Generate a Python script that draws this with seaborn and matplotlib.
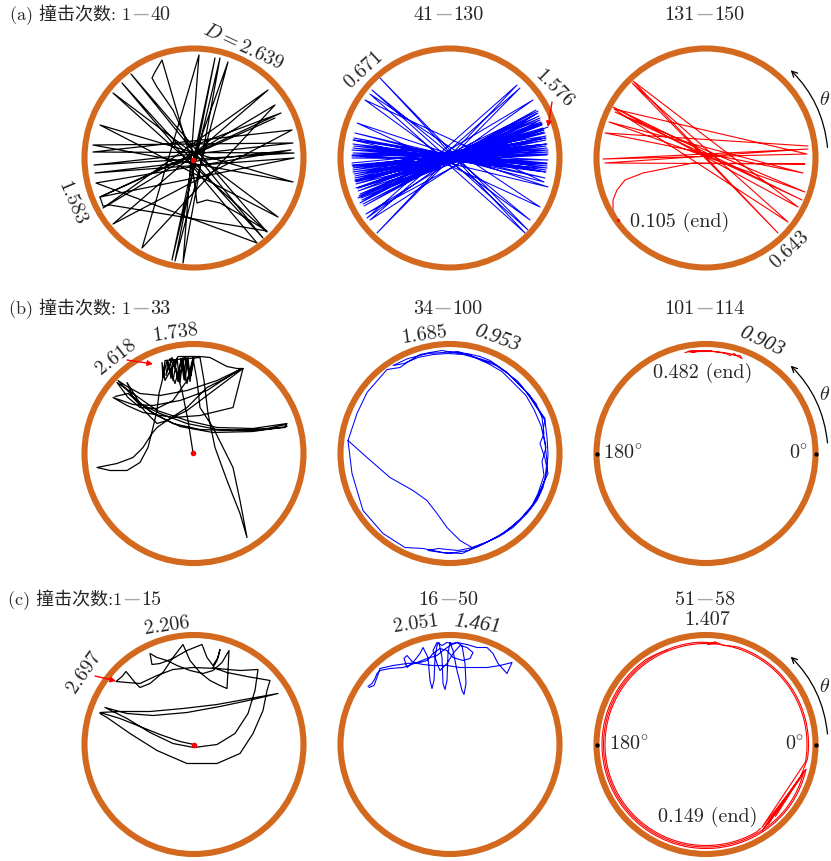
import numpy as np
import matplotlib
matplotlib.use("Agg")
import matplotlib.pyplot as plt
import seaborn as sns
from matplotlib.patches import Circle

# ---------------------------------------------------------------- data
# trajectory points, in px-like units relative to the container centre
# (container wall at radius ~109.5)
a1_xy = [(-1, -2), (34, 96), (-19, -103), (21, 100), (-22, -102), (26, 100), (-11, -105), (5, 103),
         (-52, -90), (81, 53), (-91, -50), (74, 68), (-81, -66), (98, 28), (-101, 6), (100, 5),
         (-100, -7), (99, 15), (-101, 13), (99, -24), (-94, 33), (84, -59), (-81, 65), (73, -74),
         (-63, 84), (69, -80), (-72, 75), (63, -85), (-98, -25), (97, 8), (-99, -15), (100, 0),
         (-94, -39), (87, 45), (-4, 11), (-21, 48), (-37, 71), (-42, 80), (-39, 86), (-32, 98),
         (-2, -5), (3, -45), (13, -42), (26, -45), (47, -57), (73, -73), (-84, -47), (-91, -48),
         (-94, -39), (81, 40)]

a2_xy = [(-98, -5), (97, 14), (-97, -12), (96, 20), (-95, -18), (95, 25), (-94, -24), (93, 30),
         (-92, -30), (92, 35), (-90, -36), (90, 40), (-88, -42), (88, 45), (-86, -48), (86, 48),
         (-84, -56), (90, 38), (-92, -33), (94, 28), (-95, -22), (96, 18), (-97, -14), (97, 10),
         (-98, -7), (98, 4), (-98, 0), (98, -2), (-98, 8), (97, -8), (-97, 14), (96, -14),
         (-96, 20), (95, -20), (-95, 25), (94, -24), (-85, 58), (80, -62), (-78, 68), (78, -72),
         (-70, 80), (75, -75), (-80, 64), (90, -49), (-93, 35), (98, -29), (-97, 18), (97, -10),
         (-98, 3), (98, 8), (-97, -10), (96, 22), (-94, -26), (92, 33), (-91, -38), (89, 42),
         (-87, -46), (86, 44), (-80, -62), (70, 70), (-73, -75), (67, 73), (-83, -60), (83, 58),
         (-90, -45), (88, 47), (-92, -40), (91, 36), (-94, -30), (93, 28), (-95, -23), (95, 20),
         (-96, -16), (96, 12), (-97, -8), (97, 3), (-97, 5), (97, -5), (-96, 12), (96, -12),
         (-96, 18), (95, -14), (-97, 10), (97, -6), (-98, 2), (98, 6), (-97, -8), (96, 14),
         (-95, -20), (94, 26), (-92, -30), (92, 34), (-89, -40), (98, 31)]

a3_xy = [(102, 12), (-101, 25), (97, -15), (-97, 36), (99, -34), (-91, 46), (96, -42), (-93, 51),
         (92, -49), (-73, 77), (72, -75), (-74, 75), (82, -64), (-92, 49), (101, 4), (-103, -1),
         (102, 9), (-101, -5), (99, -6), (-13, -5), (-63, -15), (-81, -22), (-89, -32), (-93, -42),
         (-93, -52), (-88, -62)]

b1_xy = [(-1, 1), (-6, 33), (-12, 63), (-19, 86), (-24, 95),
         (-21, 73), (-17, 95), (-14, 71), (-11, 96), (-9, 73), (-6, 96), (-4, 76), (-1, 96), (-7, 70),
         (-12, 95), (-19, 70), (-27, 93), (-31, 76), (-32, 91), (-29, 73), (-16, 97), (-2, 97),
         (6, 97), (16, 96), (33, 87), (43, 85), (49, 85),
         (33, 73), (13, 58), (-7, 43), (-27, 33), (-37, 26), (-42, 20), (-51, 6), (-61, -4), (-77, -10), (-97, -14),
         (-84, -17), (-67, -17), (-54, -9), (-46, 6), (-41, 26), (-37, 43), (-35, 60), (-31, 76), (-29, 93),
         (6, 96), (10, 73), (14, 40), (21, 6), (33, -27), (46, -60), (53, -84),
         (46, -47), (39, -14), (29, 6), (19, 26), (6, 46), (3, 73), (-1, 95),
         (-4, 72), (-8, 96), (-10, 74), (-13, 95), (-16, 72), (-20, 94), (-23, 75), (-26, 92),
         (-28, 78), (-22, 96), (-15, 76), (-9, 97), (-3, 78), (0, 95),
         (-7, 73), (-21, 53), (-37, 45), (-54, 46), (-66, 56), (-77, 71),
         (-61, 60), (-37, 43), (-7, 33), (23, 26), (59, 25), (93, 30),
         (91, 26), (59, 23), (23, 24), (-7, 30), (-34, 40), (-54, 50), (-67, 71),
         (-61, 56), (-47, 40), (-37, 30), (-27, 33), (-7, 46), (13, 66), (33, 76), (46, 84),
         (39, 80), (13, 63), (-14, 53), (-41, 48), (-61, 49), (-81, 56),
         (-67, 48), (-51, 41), (-21, 36), (6, 38), (39, 46),
         (49, 85), (46, 84), (23, 73), (-7, 63), (-34, 58), (-54, 60), (-67, 67), (-76, 73),
         (-61, 57), (-44, 42), (-21, 30), (6, 24), (39, 23), (73, 25), (92, 29),
         (93, 27), (59, 22), (19, 21), (-14, 27), (-37, 38), (-54, 50), (-66, 60), (-79, 57)]

b2_xy = [(-102, 13), (-93, 40), (-83, 61), (-63, 84),
         (-50, 86), (-40, 93), (-30, 99), (-20, 101), (-8, 103), (3, 101), (17, 100), (30, 97), (40, 93),
         (50, 86), (60, 78), (67, 73), (73, 66), (82, 53), (90, 41), (95, 33), (97, 16), (98, 0),
         (97, -17), (93, -34), (87, -47), (77, -60), (63, -74), (47, -84), (30, -92), (12, -100),
         (-7, -99), (-27, -95), (-45, -94), (-67, -80), (-87, -57), (-98, -20), (-102, 13),
         (-83, -4), (-60, -24), (-37, -37), (-23, -47), (-13, -60), (-3, -74), (10, -87), (22, -94),
         (38, -88), (54, -80), (70, -66), (82, -52), (88, -40), (94, -22), (92, -8), (96, 6), (93, 22),
         (95, 35), (86, 48), (80, 58), (70, 68), (58, 80), (46, 88), (28, 95), (13, 99), (-2, 100),
         (-17, 99), (-32, 96), (-46, 90), (-57, 88),
         (-42, 95), (-22, 100), (-7, 101), (8, 102), (26, 96), (42, 91), (56, 82), (66, 72), (76, 62),
         (86, 50), (92, 36), (94, 20), (90, 10), (95, -5), (98, -20), (91, -35), (84, -50), (72, -64),
         (56, -78), (38, -88), (18, -97), (-2, -100), (-22, -97), (-12, -95), (8, -97), (28, -93),
         (48, -83), (66, -70), (80, -56), (90, -40), (95, -25), (97, -8), (95, 10), (91, 28), (84, 44),
         (76, 58), (64, 70), (52, 82), (38, 90), (20, 98), (6, 101)]

b3_xy = [(-21, 101), (-10, 103), (-18, 102), (-5, 103), (-15, 101), (0, 103), (-12, 102), (5, 103),
         (-8, 102), (7, 102), (14, 101), (20, 100), (24, 98), (28, 100), (32, 97), (36, 95), (34, 98),
         (29, 98), (23, 100), (17, 101), (9, 102), (-1, 103), (-11, 102), (-17, 102)]

c1_xy = [(0, 0), (-14, 3), (-34, 10), (-54, 18), (-74, 26), (-94, 32),
         (-74, 33), (-44, 33), (-11, 36), (23, 40), (56, 46), (84, 51),
         (59, 45), (26, 38), (-7, 32), (-41, 29), (-67, 31), (-89, 37),
         (-67, 26), (-44, 12), (-21, 1), (0, -3), (23, 0), (41, 11), (54, 31), (61, 54), (64, 75),
         (46, 74), (23, 76), (-1, 77), (-21, 75), (-37, 69), (-54, 61), (-67, 62), (-78, 63),
         (-72, 68), (-68, 73), (-59, 62), (-54, 57), (-44, 61), (-31, 72), (-21, 87), (-11, 100),
         (-4, 84), (6, 72), (16, 64), (26, 59), (33, 56),
         (34, 74), (35, 94),
         (28, 82), (19, 74), (9, 71), (-4, 74), (-17, 79), (-27, 84), (-37, 87), (-44, 91),
         (-42, 80), (-34, 81), (-21, 86), (-7, 94), (8, 100),
         (13, 87), (19, 79), (24, 87), (26, 95),
         (23, 84), (19, 77), (33, 72), (53, 68), (76, 64),
         (73, 54), (69, 34), (59, 11), (46, -9), (23, -19), (-7, -19), (-37, -6), (-64, 11),
         (-87, 27), (-94, 31)]

c2_xy = [(-82, 58), (-78, 61), (-75, 66), (-73, 71), (-70, 74), (-60, 76), (-47, 77), (-33, 82),
         (-23, 86), (-13, 89), (-7, 94), (0, 99), (7, 102), (17, 100), (27, 97), (37, 97), (43, 91),
         (48, 81), (57, 71), (62, 82), (50, 79), (37, 77), (27, 77), (10, 77), (-3, 79), (-17, 79),
         (-27, 80), (-37, 82), (-43, 89), (-46, 86), (-43, 77), (-37, 82), (-30, 91), (-27, 97),
         (-22, 87), (-20, 64), (-18, 56), (-16, 64), (-15, 87), (-13, 99), (-11, 102), (-8, 87),
         (-7, 61), (-5, 55), (-3, 64), (-2, 91), (0, 102), (3, 94), (7, 74), (12, 54), (14, 50),
         (16, 61), (15, 81), (12, 99), (7, 102), (2, 101), (-3, 102), (-8, 99), (-13, 102),
         (-17, 94), (-13, 81), (-10, 74), (-3, 81), (3, 91), (10, 99), (17, 97), (23, 92), (20, 86),
         (13, 84), (3, 87), (-3, 94), (-10, 96), (-17, 91), (-23, 84), (-30, 82), (-43, 81),
         (-57, 79), (-70, 76), (-73, 67), (-76, 59), (-81, 57)]

# panel c3: wall-hugging laps as (polar angle in deg, radius), and the
# straight corner flights between them
c3_lap1 = [(112, 102), (125, 104), (140, 104), (155, 104), (170, 104), (185, 104), (200, 104),
           (215, 104), (230, 104), (245, 104), (260, 104), (275, 104), (290, 104), (305, 104),
           (320, 104), (335, 103.5), (346, 103)]
c3_corner1 = [(346, 103), (303, 103), (345, 102), (308, 101), (343, 101), (314, 100), (326, 96),
              (318, 97), (341, 100), (352, 102.5)]
c3_lap2 = [(-8, 102.5), (2, 102.5), (15, 102.5), (30, 102.5), (45, 102.5), (60, 102.5),
           (72, 102.5), (80, 100.5), (85, 103), (89, 100), (84, 101.5), (95, 102.5), (110, 102.5),
           (125, 102.5), (140, 102.5), (155, 102.5), (170, 102.5), (185, 102.5), (200, 102.5),
           (215, 102.5), (230, 102.5), (245, 102.5), (260, 102.5), (275, 102.5), (290, 102.5),
           (305, 102.5), (320, 102.5), (333, 102), (344, 101.5)]
c3_corner2 = [(344, 101.5), (306, 101), (340, 100), (304, 100), (350, 101)]
c3_lap3 = [(-10, 101), (5, 101), (20, 101), (35, 101), (50, 101), (65, 101), (80, 101), (95, 101),
           (110, 101), (125, 101), (140, 101), (155, 101), (170, 101), (185, 101), (200, 101),
           (215, 101), (230, 101), (245, 101), (260, 101), (275, 101), (290, 101), (300, 101),
           (303, 100)]

start_dots = {"a1": (-1, -2), "b1": (-1, 1), "c1": (0, 0)}
end_dot_a3 = (-88, -62)

# ---------------------------------------------------------------- style
sns.set_style("white")
plt.rcParams["font.family"] = ["cmr10", "Noto Sans CJK SC"]
plt.rcParams["mathtext.fontset"] = "cm"
plt.rcParams["axes.formatter.use_mathtext"] = True

W, H = 831, 861
FS = 14.5
RING_R = 109.5
RING_C = "#D2691E"
COLS = [194, 450, 706]
ROWS = [158, 453.5, 744.5]
L = 128

fig = plt.figure(figsize=(W / 100, H / 100), dpi=100)


def rect(col, row):
    cx, cy = COLS[col], ROWS[row]
    return [(cx - L) / W, (H - cy - L) / H, 2 * L / W, 2 * L / H]


def make_ax(col, row):
    ax = fig.add_axes(rect(col, row))
    ax.set_xlim(-L, L)
    ax.set_ylim(-L, L)
    ax.axis("off")
    ax.add_patch(Circle((0, 0), RING_R, fill=False, ec=RING_C, lw=4.4, zorder=3))
    return ax


def fix(ax):
    ax.set_xlim(-L, L)
    ax.set_ylim(-L, L)
    ax.set_xlabel("")
    ax.set_ylabel("")


def traj(ax, xy, color, lw):
    x = [p[0] for p in xy]
    y = [p[1] for p in xy]
    sns.lineplot(x=x, y=y, sort=False, estimator=None, color=color, lw=lw, ax=ax, zorder=2,
                 legend=False)
    fix(ax)


def polar_to_xy(pts):
    t = np.deg2rad([p[0] for p in pts])
    r = np.array([p[1] for p in pts])
    return list(zip(r * np.cos(t), r * np.sin(t)))


def txt(ax, x, y, s, rot=0, ha="center", size=FS, **kw):
    ax.text(x, y, s, rotation=rot, ha=ha, va="center", rotation_mode="anchor", fontsize=size, **kw)


def title(ax, y, left, right, dash_x, left_size=FS):
    ax.text(dash_x - 9.5, y, left, ha="right", va="baseline", fontsize=left_size)
    ax.text(dash_x, y + 1.5, "\u2014", ha="center", va="baseline", fontsize=12,
            color="#a8a8a8", family="DejaVu Sans")
    ax.text(dash_x + 9.5, y, right, ha="left", va="baseline", fontsize=FS)


def red_arrow(ax, start, end):
    ax.annotate("", xy=end, xytext=start,
                arrowprops=dict(arrowstyle="-|>", color="red", lw=1.0, mutation_scale=8,
                                shrinkA=0, shrinkB=0), zorder=5)


def theta_arrow(ax):
    ax.annotate("", xy=(84.7, 87.8), xytext=(121.5, 10.6),
                arrowprops=dict(arrowstyle="->", color="black", lw=0.9, mutation_scale=10,
                                connectionstyle="arc3,rad=0.18", shrinkA=0, shrinkB=0))
    txt(ax, 119, 58, r"$\theta$")


def angle_marks(ax, x180, x0):
    sns.scatterplot(x=[-RING_R, RING_R], y=[0, 0], color="black", s=10, linewidth=0, ax=ax,
                    zorder=5, legend=False)
    ax.text(x180, 0, r"$180^{\circ}$", ha="left", va="center", fontsize=FS)
    ax.text(x0, 0, r"$0^{\circ}$", ha="right", va="center", fontsize=FS)
    fix(ax)


def dot(ax, p, s=16):
    sns.scatterplot(x=[p[0]], y=[p[1]], color="red", s=s, linewidth=0, ax=ax, zorder=6,
                    legend=False)
    fix(ax)


# ---------------------------------------------------------------- row (a)
ax = make_ax(0, 0)
traj(ax, a1_xy, "black", 0.9)
dot(ax, start_dots["a1"])
title(ax, 137.5, "(a) 撞击次数: 1", "40", -53.5, left_size=13)
txt(ax, 49, 111, r"$D=2.639$", rot=-25)
txt(ax, -122, -45, "1.583", rot=-67)

ax = make_ax(1, 0)
traj(ax, a2_xy, "blue", 0.75)
title(ax, 137.5, "41", "130", -6.5)
txt(ax, -86, 88, "0.671", rot=43)
txt(ax, 104, 69, "1.576", rot=-45)
red_arrow(ax, (102, 56), (98, 31))

ax = make_ax(2, 0)
traj(ax, a3_xy, "red", 0.8)
dot(ax, end_dot_a3, s=6)
title(ax, 137.5, "131", "150", -1.5)
txt(ax, -26, -64, "0.105 (end)")
txt(ax, 84, -92, "0.643", rot=43)
theta_arrow(ax)

# ---------------------------------------------------------------- row (b)
ax = make_ax(0, 1)
traj(ax, b1_xy, "black", 0.9)
dot(ax, start_dots["b1"])
title(ax, 139.3, "(b) 撞击次数: 1", "33", -53.5, left_size=13)
txt(ax, -78, 96.5, "2.618", rot=38)
txt(ax, -19, 120.5, "1.738", rot=8)
red_arrow(ax, (-67, 93.5), (-41, 89.5))

ax = make_ax(1, 1)
traj(ax, b2_xy, "blue", 0.75)
title(ax, 139.3, "34", "100", -7.5)
txt(ax, -26, 118.5, "1.685", rot=8)
txt(ax, 47, 114.5, "0.953", rot=-20, family="Liberation Serif", style="italic", size=15)

ax = make_ax(2, 1)
traj(ax, b3_xy, "red", 0.8)
title(ax, 139.3, "101", "114", -1.5)
txt(ax, 56, 111.5, "0.903", rot=-25, family="Liberation Serif", style="italic", size=15)
txt(ax, -3, 80.5, "0.482 (end)")
angle_marks(ax, -103, 102)
theta_arrow(ax)

# ---------------------------------------------------------------- row (c)
ax = make_ax(0, 2)
traj(ax, c1_xy, "black", 0.9)
dot(ax, start_dots["c1"])
title(ax, 139.3, "(c) 撞击次数:1", "15", -62, left_size=13)
txt(ax, -110, 72.5, "2.697", rot=55)
txt(ax, -27, 118.5, "2.206", rot=8)
red_arrow(ax, (-99, 68.5), (-78, 63.5))

ax = make_ax(1, 2)
traj(ax, c2_xy, "blue", 0.8)
title(ax, 139.3, "16", "50", -1.5)
txt(ax, -34, 120.5, "2.051", rot=8)
txt(ax, 27, 119.5, "1.461", rot=-8, family="Liberation Serif", style="italic", size=15)

ax = make_ax(2, 2)
traj(ax, polar_to_xy(c3_corner1), "red", 0.8)
traj(ax, polar_to_xy(c3_corner2), "red", 0.8)
title(ax, 139.3, "51", "58", -1)
txt(ax, 1, 124.5, "1.407")
txt(ax, 2, -72.5, "0.149 (end)")
angle_marks(ax, -97, 98)
theta_arrow(ax)

# laps drawn on a polar axes over the same square, so they follow the wall
axp = fig.add_axes(rect(2, 2), projection="polar")
axp.patch.set_alpha(0)
for lap in (c3_lap1, c3_lap2, c3_lap3):
    sns.lineplot(x=np.deg2rad([p[0] for p in lap]), y=[p[1] for p in lap], sort=False,
                 estimator=None, color="red", lw=0.8, ax=axp, legend=False)
for ln in axp.get_lines():
    ln.get_path()._interpolation_steps = 24   # draw each step as an arc in polar space
axp.set_ylim(0, L)
axp.axis("off")

fig.savefig("out.png", dpi=100)
